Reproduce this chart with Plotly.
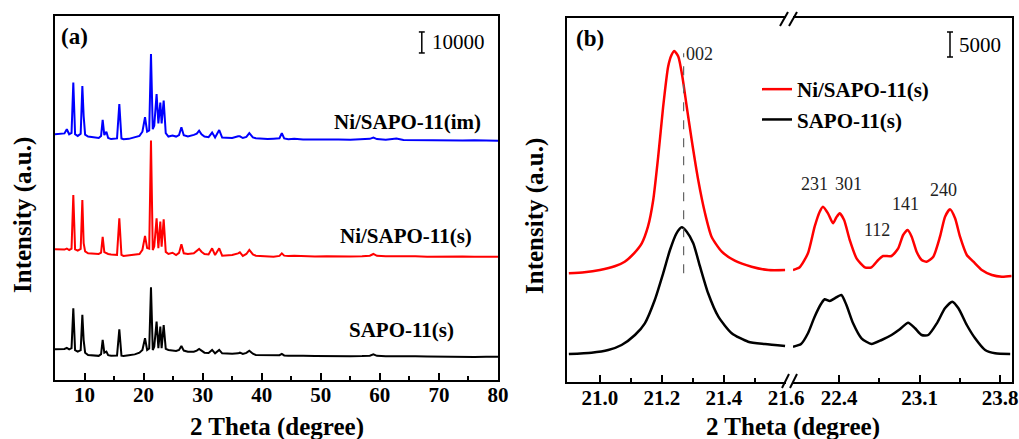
import plotly.graph_objects as go

W, H = 1019, 439
FONT = "Liberation Serif, Times New Roman, serif"

# ---------------- panel (a): wide-angle XRD patterns ----------------
two_theta = [5.0, 6.0, 6.6, 7.0, 7.4, 7.8, 8.1, 8.4, 8.85, 9.35, 9.63, 9.85, 10.1, 10.6,
             11.5, 12.4, 12.8, 13.07, 13.35, 13.7, 14.0, 14.5, 15.5, 15.89, 16.25, 16.6,
             17.5, 18.5, 19.3, 19.8, 20.24, 20.6, 20.95, 21.25, 21.55, 21.8, 22.2, 22.5,
             22.83, 23.05, 23.4, 23.75, 24.2, 24.9, 25.5, 26.0, 26.4, 26.8, 27.5, 28.5,
             29.0, 29.4, 29.8, 30.3, 31.0, 31.6, 32.1, 32.8, 33.3, 34.0, 35.0, 36.0, 36.3,
             36.8, 37.4, 37.9, 38.5, 39.0, 40.0, 41.0, 42.0, 43.0, 43.4, 43.8, 44.5, 45.5,
             47.0, 49.0, 51.0, 53.0, 55.0, 57.0, 58.3, 58.9, 59.5, 61.0, 62.8, 64.0, 66.0,
             68.0, 70.0, 72.0, 74.0, 76.0, 78.0, 80.0]

ni_im = [17000, 17200, 17400, 19400, 17000, 17600, 41600, 17000, 16200, 17200, 40000, 25700,
         16800, 15900, 15600, 15200, 16200, 23800, 16600, 18200, 15200, 14700, 15000, 31400,
         15000, 14600, 14800, 15400, 16200, 18200, 25100, 18200, 18800, 55200, 19400, 21000,
         36100, 22200, 32100, 22200, 33000, 17500, 15900, 16400, 15900, 16600, 20300, 16500,
         15900, 16700, 17300, 18700, 17000, 15900, 15600, 17800, 15500, 19000, 15400, 15300,
         15200, 16000, 16000, 15200, 15700, 17500, 15500, 15100, 14900, 14700, 14900, 15100,
         17500, 15000, 14600, 14800, 14500, 14600, 14400, 14500, 14400, 14600, 14800, 15400,
         14700, 14400, 15000, 14300, 14200, 14300, 14100, 14200, 14000, 14100, 13900, 13960]

ni_s = [17240, 17000, 17100, 17600, 16900, 17500, 43100, 17200, 16600, 17400, 40700, 20100,
        16200, 15300, 15100, 15000, 15600, 23200, 15900, 15400, 15000, 14800, 14600, 32000,
        14600, 14100, 14300, 14600, 15000, 17000, 23600, 17800, 17500, 69000, 16900, 18500,
        32000, 17700, 30400, 18500, 31500, 16000, 15000, 15600, 14500, 15500, 19600, 15300,
        15000, 15300, 16500, 17400, 16100, 15000, 14800, 17700, 14500, 17700, 14200, 14300,
        14500, 15300, 15800, 14100, 15000, 16900, 14800, 14200, 14000, 13800, 13700, 14100,
        15300, 14200, 14000, 14100, 13900, 13800, 13900, 13700, 13800, 13900, 14200, 15000,
        14100, 13900, 14000, 13800, 13900, 13700, 13800, 13700, 13800, 13700, 13800, 13720]

sapo_s = [14620, 14700, 14800, 15300, 14600, 15200, 34100, 14200, 13500, 14200, 31000, 19000,
          13000, 11900, 11700, 11500, 12300, 19100, 13000, 13500, 11800, 11500, 11600, 24100,
          11600, 11400, 11800, 12200, 13000, 14300, 19900, 14300, 15000, 44100, 14300, 15800,
          27800, 15100, 25400, 15100, 26200, 14800, 14300, 14000, 13800, 14300, 16200, 14000,
          13500, 13500, 14000, 14800, 13900, 13000, 12900, 14300, 12700, 14300, 12700, 12600,
          12500, 12700, 13000, 12400, 12900, 13950, 12500, 11900, 11800, 11700, 11600, 11800,
          12400, 11700, 11500, 11600, 11500, 11400, 11300, 11400, 11300, 11400, 11600, 12200,
          11500, 11300, 11400, 11200, 11300, 11200, 11100, 11200, 11100, 11000, 11100, 11100]

# vertical stacking of the patterns
offset_im, offset_ni_s, offset_sapo = 100000, 45000, 0
scale_bar_a = 10000

# ---------------- panel (b): enlarged 21-24 degree region ----------------
offset_b = 15000
scale_bar_b = 5000

tt_red_lo = [20.90, 20.95, 21.00, 21.05, 21.08, 21.11, 21.135, 21.155, 21.172, 21.188, 21.204,
             21.22, 21.231, 21.24, 21.253, 21.266, 21.28, 21.296, 21.317, 21.339, 21.36,
             21.393, 21.435, 21.489, 21.543, 21.597]
ni_s_lo = [6680, 6880, 7340, 8140, 9000, 10680, 12680, 16000, 21340, 30000, 40000, 48000,
           50340, 51140, 50000, 46000, 40000, 33340, 25340, 18680, 14000, 11000, 9200, 8000,
           7340, 7340]

tt_blk_lo = [20.90, 20.973, 21.027, 21.07, 21.113, 21.145, 21.177, 21.204, 21.226, 21.247,
             21.264, 21.28, 21.301, 21.323, 21.349, 21.382, 21.425, 21.478, 21.532, 21.597]
sapo_lo = [5540, 5800, 6340, 7340, 9340, 11680, 16340, 21680, 26340, 29680, 30880, 30000,
           27680, 23000, 17680, 13000, 9680, 8000, 7540, 7140]

tt_red_hi = [22.0, 22.058, 22.13, 22.188, 22.232, 22.26, 22.304, 22.348, 22.377, 22.406,
             22.444, 22.493, 22.552, 22.624, 22.682, 22.74, 22.783, 22.856, 22.914, 22.957,
             22.996, 23.031, 23.074, 23.118, 23.161, 23.219, 23.277, 23.321, 23.364, 23.408,
             23.451, 23.51, 23.567, 23.64, 23.728, 23.815, 23.9]
ni_s_hi = [7340, 7880, 10680, 16000, 19000, 20000, 18680, 16680, 17880, 18680, 17340, 13340,
           9680, 7880, 7880, 9340, 10140, 10140, 11680, 14340, 15340, 14000, 11000, 9340,
           9000, 10000, 14000, 18000, 19480, 17680, 14000, 10340, 9000, 7340, 6340, 6000, 6140]

tt_blk_hi = [22.0, 22.07, 22.13, 22.188, 22.247, 22.275, 22.319, 22.363, 22.42, 22.464,
             22.522, 22.595, 22.682, 22.77, 22.856, 22.928, 23.0, 23.06, 23.118, 23.175,
             23.25, 23.32, 23.384, 23.437, 23.51, 23.582, 23.669, 23.756, 23.887]
sapo_hi = [7000, 7540, 9680, 13000, 15680, 16480, 16140, 16680, 17340, 15340, 11680, 8680,
           7540, 8340, 9340, 10480, 11800, 10680, 9340, 9340, 11680, 14680, 16000, 14680,
           11340, 8680, 6340, 5680, 5540]

# Miller indices of the reflections and where their labels sit
hkl_labels = ["231", "301", "112", "141", "240"]
hkl_pos = [22.19, 22.48, 22.73, 22.98, 23.31]
hkl_height = [39540, 39540, 30340, 35640, 38340]

COL_IM, COL_S, COL_SAPO = "#0000FF", "#FF0000", "#000000"


def px(x):
    return x / W


def py(y):
    return 1 - y / H


fig = go.Figure()

# panel (a) traces
for vals, off, col in [(ni_im, offset_im, COL_IM), (ni_s, offset_ni_s, COL_S),
                       (sapo_s, offset_sapo, COL_SAPO)]:
    fig.add_trace(go.Scatter(x=two_theta, y=[v + off for v in vals], mode="lines",
                             line=dict(color=col, width=2), showlegend=False,
                             xaxis="x", yaxis="y"))

# panel (b) traces
fig.add_trace(go.Scatter(x=tt_red_lo, y=[v + offset_b for v in ni_s_lo], mode="lines",
                         line=dict(color=COL_S, width=2.5, shape="spline", smoothing=0.6),
                         name="<b>Ni/SAPO-11(s)</b>", xaxis="x2", yaxis="y2"))
fig.add_trace(go.Scatter(x=tt_blk_lo, y=sapo_lo, mode="lines",
                         line=dict(color=COL_SAPO, width=2.5, shape="spline", smoothing=0.6),
                         name="<b>SAPO-11(s)</b>", xaxis="x2", yaxis="y2"))
fig.add_trace(go.Scatter(x=tt_red_hi, y=[v + offset_b for v in ni_s_hi], mode="lines",
                         line=dict(color=COL_S, width=2.5, shape="spline", smoothing=0.6),
                         showlegend=False, xaxis="x3", yaxis="y3"))
fig.add_trace(go.Scatter(x=tt_blk_hi, y=sapo_hi, mode="lines",
                         line=dict(color=COL_SAPO, width=2.5, shape="spline", smoothing=0.6),
                         showlegend=False, xaxis="x3", yaxis="y3"))

tickfont = dict(family=FONT, size=21, color="black")
frame = dict(showline=True, linecolor="black", linewidth=2, showgrid=False, zeroline=False,
             automargin=False)

ya_range = [0, 173300]
yb_range = [0, 72680]

fig.update_layout(
    width=W, height=H, autosize=False,
    margin=dict(l=0, r=0, t=0, b=0, pad=0, autoexpand=False),
    paper_bgcolor="white", plot_bgcolor="white",
    xaxis=dict(domain=[px(55), px(498)], range=[5, 80], anchor="y", mirror=True,
               tickmode="array", tickvals=[10, 20, 30, 40, 50, 60, 70, 80],
               ticktext=["<b>%d</b>" % v for v in [10, 20, 30, 40, 50, 60, 70, 80]],
               ticks="inside", ticklen=7, tickwidth=2, tickcolor="black", tickfont=tickfont,
               ticklabelstandoff=-5,
               minor=dict(ticks="inside", ticklen=4, tickwidth=2, tickcolor="black",
                          tickvals=[15, 25, 35, 45, 55, 65, 75]),
               **frame),
    yaxis=dict(domain=[py(380), py(16)], range=ya_range, anchor="x", mirror=True,
               showticklabels=False, ticks="", **frame),
    xaxis2=dict(domain=[px(567.3), px(786)], range=[20.895, 21.6], anchor="y2", mirror=True,
                tickmode="array", tickvals=[21.0, 21.2, 21.4, 21.6],
                ticktext=["<b>21.0</b>", "<b>21.2</b>", "<b>21.4</b>", "<b>21.6</b>"],
                ticks="inside", ticklen=7, tickwidth=2, tickcolor="black", tickfont=tickfont,
                ticklabelstandoff=-4,
                minor=dict(ticks="inside", ticklen=4, tickwidth=2, tickcolor="black",
                           tickvals=[21.1, 21.3, 21.5]),
                **frame),
    xaxis3=dict(domain=[px(793), px(1011.7)], range=[22.0, 23.9], anchor="y3", mirror=True,
                tickmode="array", tickvals=[22.4, 23.1, 23.8],
                ticktext=["<b>22.4</b>", "<b>23.1</b>", "<b>23.8</b>"],
                ticks="inside", ticklen=7, tickwidth=2, tickcolor="black", tickfont=tickfont,
                ticklabelstandoff=-4,
                minor=dict(ticks="inside", ticklen=4, tickwidth=2, tickcolor="black",
                           tickvals=[22.75, 23.45]),
                **frame),
    yaxis2=dict(domain=[py(381.7), py(18.3)], range=yb_range, anchor="x2",
                showticklabels=False, ticks="", **frame),
    yaxis3=dict(domain=[py(381.7), py(18.3)], range=yb_range, anchor="x3", side="right",
                showticklabels=False, ticks="", **frame),
    legend=dict(x=px(757), y=py(69), xanchor="left", yanchor="top",
                font=dict(family=FONT, size=21, color="black"),
                bgcolor="rgba(0,0,0,0)", tracegroupgap=0, itemwidth=30),
)

shapes = []
# scale bar, panel (a)
xa_bar, ya_bar = 67.1, 155700
shapes += [
    dict(type="line", xref="x", yref="y", x0=xa_bar, x1=xa_bar, y0=ya_bar, y1=ya_bar + scale_bar_a,
         line=dict(color="black", width=1.5)),
    dict(type="line", xref="x", yref="y", x0=xa_bar - 0.5, x1=xa_bar + 0.5, y0=ya_bar, y1=ya_bar,
         line=dict(color="black", width=1.5)),
    dict(type="line", xref="x", yref="y", x0=xa_bar - 0.5, x1=xa_bar + 0.5,
         y0=ya_bar + scale_bar_a, y1=ya_bar + scale_bar_a, line=dict(color="black", width=1.5)),
]
# scale bar, panel (b)
xb_bar, yb_bar = 23.364, 64940
shapes += [
    dict(type="line", xref="x3", yref="y3", x0=xb_bar, x1=xb_bar, y0=yb_bar, y1=yb_bar + scale_bar_b,
         line=dict(color="black", width=1.5)),
    dict(type="line", xref="x3", yref="y3", x0=xb_bar - 0.026, x1=xb_bar + 0.026, y0=yb_bar, y1=yb_bar,
         line=dict(color="black", width=1.5)),
    dict(type="line", xref="x3", yref="y3", x0=xb_bar - 0.026, x1=xb_bar + 0.026,
         y0=yb_bar + scale_bar_b, y1=yb_bar + scale_bar_b, line=dict(color="black", width=1.5)),
]
# (002) reference line
shapes.append(dict(type="line", xref="x2", yref="y2", x0=21.27, x1=21.27, y0=21700, y1=65700,
                   line=dict(color="#666666", width=1.2, dash="dash")))
# axis-break marks
for (xa, ya, xb, yb) in [(780, 26, 788, 12), (789, 26, 797, 12),
                         (782, 388, 789, 374), (790, 388, 797, 374)]:
    shapes.append(dict(type="line", xref="paper", yref="paper", x0=px(xa), y0=py(ya),
                       x1=px(xb), y1=py(yb), line=dict(color="black", width=2)))
fig.update_layout(shapes=shapes)

ann = []
bold = dict(family=FONT, size=23, color="black")
ann.append(dict(text="<b>(a)</b>", xref="paper", yref="paper", x=px(59), y=py(36.5),
                xanchor="left", yanchor="middle", showarrow=False, font=bold))
ann.append(dict(text="<b>(b)</b>", xref="paper", yref="paper", x=px(574), y=py(38.5),
                xanchor="left", yanchor="middle", showarrow=False, font=bold))
ann.append(dict(text="10000", xref="x", yref="y", x=xa_bar, y=ya_bar + scale_bar_a / 2,
                xanchor="left", yanchor="middle", xshift=8, showarrow=False,
                font=dict(family=FONT, size=21, color="black")))
ann.append(dict(text="5000", xref="x3", yref="y3", x=xb_bar, y=yb_bar + scale_bar_b / 2,
                xanchor="left", yanchor="middle", xshift=7, showarrow=False,
                font=dict(family=FONT, size=21, color="black")))

sample_font = dict(family=FONT, size=21, color="black")
for txt, xr, yc in [("Ni/SAPO-11(im)", 483, 122), ("Ni/SAPO-11(s)", 474, 236),
                    ("SAPO-11(s)", 456, 330)]:
    ann.append(dict(text="<b>%s</b>" % txt, xref="paper", yref="paper", x=px(xr), y=py(yc),
                    xanchor="right", yanchor="middle", showarrow=False, font=sample_font))

ann.append(dict(text="002", xref="x2", yref="y2", x=21.27, y=65600, xanchor="left",
                yanchor="middle", showarrow=False, font=dict(family=FONT, size=18, color="#222")))
for lab, xp, yp in zip(hkl_labels, hkl_pos, hkl_height):
    ann.append(dict(text=lab, xref="x3", yref="y3", x=xp, y=yp, xanchor="center",
                    yanchor="middle", showarrow=False, font=dict(family=FONT, size=18, color="#222")))

title_font = dict(family=FONT, size=25, color="black")
ann.append(dict(text="<b>2 Theta (degree)</b>", xref="paper", yref="paper", x=px(276.5),
                y=py(427), xanchor="center", yanchor="middle", showarrow=False, font=title_font))
ann.append(dict(text="<b>2 Theta (degree)</b>", xref="paper", yref="paper", x=px(793),
                y=py(427), xanchor="center", yanchor="middle", showarrow=False, font=title_font))
ann.append(dict(text="<b>Intensity (a.u.)</b>", xref="paper", yref="paper", x=px(23),
                y=py(215), xanchor="center", yanchor="middle", textangle=-90, showarrow=False,
                font=title_font))
ann.append(dict(text="<b>Intensity (a.u.)</b>", xref="paper", yref="paper", x=px(535),
                y=py(216), xanchor="center", yanchor="middle", textangle=-90, showarrow=False,
                font=title_font))
fig.update_layout(annotations=ann)

fig.write_html("out.html")
